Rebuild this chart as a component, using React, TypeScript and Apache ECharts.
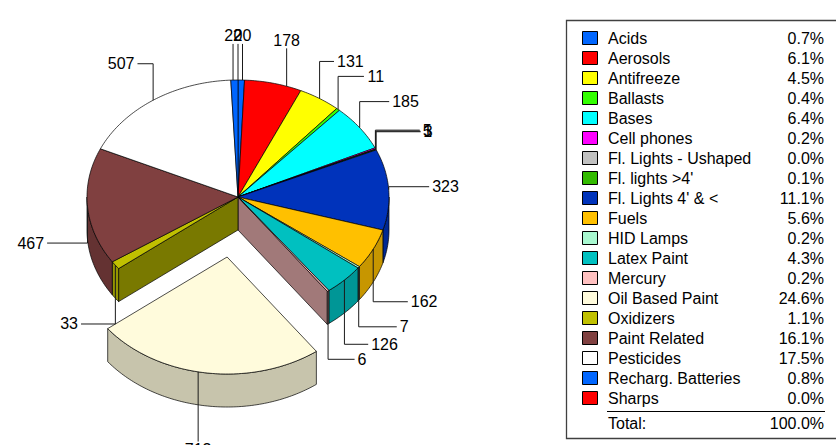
import React, { useEffect, useRef } from 'react';
import * as echarts from 'echarts';

// ---------- data ----------
const categories = [
  'Acids', 'Aerosols', 'Antifreeze', 'Ballasts', 'Bases', 'Cell phones',
  'Fl. Lights - Ushaped', "Fl. lights >4'", "Fl. Lights 4' & <", 'Fuels',
  'HID Lamps', 'Latex Paint', 'Mercury', 'Oil Based Paint', 'Oxidizers',
  'Paint Related', 'Pesticides', 'Recharg. Batteries', 'Sharps',
];
const values = [20, 178, 131, 11, 185, 5, 1, 3, 323, 162, 7, 126, 6, 713, 33, 467, 507, 22, 0];
const palette = [
  '#0066ff', '#ff0000', '#ffff00', '#33ff00', '#00ffff', '#ff00ff',
  '#c0c0c0', '#33bb00', '#0033bb', '#ffc000', '#a8f8d0', '#00c0c0',
  '#ffc0c0', '#fffbdc', '#c0c000', '#804040', '#ffffff', '#0066ff', '#ff0000',
];
const explodedIndex = 13;
const totalLabel = 'Total:';

// ---------- geometry / style ----------
const CX = 238, CY = 197, RX = 151, RY = 117, H = 33;
const EXPLODE = 0.518;
const LABEL_F = 1.377;
const D = Math.PI / 180;
const FONT = '16px "Liberation Sans", Arial, Helvetica, sans-serif';

const total = values.reduce((a, b) => a + b, 0);
const starts: number[] = [];
{
  let acc = 0;
  values.forEach((v) => { starts.push(acc); acc += v; });
}

function shade(hex: string, f: number) {
  const n = parseInt(hex.slice(1), 16);
  const r = Math.round(((n >> 16) & 255) * f);
  const g = Math.round(((n >> 8) & 255) * f);
  const b = Math.round((n & 255) * f);
  return `rgb(${r},${g},${b})`;
}

function arc(ox: number, oy: number, a: number, b: number, dy: number) {
  const pts: number[][] = [];
  const n = Math.max(1, Math.ceil(Math.abs(b - a)));
  for (let k = 0; k <= n; k++) {
    const t = a + ((b - a) * k) / n;
    pts.push([ox + RX * Math.sin(t * D), oy - RY * Math.cos(t * D) + dy]);
  }
  return pts;
}

function textStyle(text: string, x: number, y: number, align: string) {
  return {
    text, x, y, font: FONT, fill: '#000',
    align, textAlign: align, verticalAlign: 'middle', textVerticalAlign: 'middle',
  };
}

function renderItem(params: any, api: any) {
  const i = params.dataIndex;
  const v = api.value(0);
  const t0 = (starts[i] / total) * 360;
  const t1 = ((starts[i] + v) / total) * 360;
  const tm = (t0 + t1) / 2;
  const isEx = i === explodedIndex;
  const ex = isEx ? EXPLODE : 0;
  const ox = CX + ex * RX * Math.sin(tm * D);
  const oy = CY - ex * RY * Math.cos(tm * D);
  const color = palette[i];
  const zb = isEx ? 10 : 0;
  const edge = { stroke: '#000', lineWidth: 0.7, lineJoin: 'round' };
  const children: any[] = [];

  if (v > 0) {
    // radial walls that face the gap left by the exploded slice
    const wallAt = (t: number) => {
      const p = [ox + RX * Math.sin(t * D), oy - RY * Math.cos(t * D)];
      children.push({
        type: 'polygon', z2: 1,
        shape: { points: [[ox, oy], p, [p[0], p[1] + H], [ox, oy + H]] },
        style: { fill: shade(color, 0.63), ...edge },
      });
    };
    if (i === explodedIndex - 1) wallAt(t1);
    if (i === explodedIndex + 1) wallAt(t0);

    // outer (front) wall
    const a = Math.max(t0, 90), b = Math.min(t1, 270);
    if (b > a) {
      const top = arc(ox, oy, a, b, 0);
      const bot = arc(ox, oy, a, b, H).reverse();
      children.push({
        type: 'polygon', z2: zb + 2,
        shape: { points: top.concat(bot) },
        style: { fill: shade(color, 0.78), ...edge },
      });
    }
    // top face
    children.push({
      type: 'polygon', z2: zb + 3,
      shape: { points: [[ox, oy]].concat(arc(ox, oy, t0, t1, 0)) },
      style: { fill: color, ...edge },
    });
  }

  // label with leader line
  const s = Math.sin(tm * D), c = Math.cos(tm * D);
  const front = c < 0;
  const ax = ox + RX * s, ay = oy - RY * c;
  const lx = ox + LABEL_F * RX * s;
  const ly = oy - LABEL_F * RY * c + (front ? H : 0);
  const txt = String(v);
  const w = txt.length * 8.9;
  let pts: number[][];
  if (Math.abs(ax - lx) <= w / 2) {
    const q = Math.max(-1, Math.min(1, (lx - ox) / RX));
    const yr = oy + (front ? 1 : -1) * RY * Math.sqrt(1 - q * q);
    pts = [[lx, front ? ly - 8 : ly + 8], [lx, yr]];
  } else {
    const endX = lx > ax ? lx - w / 2 - 3 : lx + w / 2 + 3;
    pts = [[ax, ay], [ax, ly], [endX, ly]];
  }
  children.push({
    type: 'polyline', z2: 30, shape: { points: pts },
    style: { stroke: '#1a1a1a', lineWidth: 1, fill: null },
  });
  children.push({ type: 'text', z2: 31, style: textStyle(txt, lx, ly, 'center') });

  return { type: 'group', children };
}

function buildLegend() {
  const children: any[] = [];
  const rowY = (k: number) => 38 + k * 20;
  children.push({
    type: 'rect', shape: { x: 566.5, y: 20.5, width: 290, height: 418 },
    style: { fill: '#fff', stroke: '#404040', lineWidth: 1.3 }, z: 0,
  });
  categories.forEach((name, k) => {
    const y = rowY(k);
    children.push({
      type: 'rect', shape: { x: 582.5, y: y - 6.5, width: 15, height: 13 },
      style: { fill: palette[k], stroke: '#000', lineWidth: 1 }, z: 1,
    });
    children.push({ type: 'text', z: 1, style: textStyle(name, 608, y, 'left') });
    const pct = ((values[k] / total) * 100).toFixed(1) + '%';
    children.push({ type: 'text', z: 1, style: textStyle(pct, 824, y, 'right') });
  });
  children.push({
    type: 'line', z: 1, shape: { x1: 607, y1: 411.5, x2: 825, y2: 411.5 },
    style: { stroke: '#000', lineWidth: 1 },
  });
  const ty = 423;
  children.push({ type: 'text', z: 1, style: textStyle(totalLabel, 608, ty, 'left') });
  children.push({ type: 'text', z: 1, style: textStyle('100.0%', 824, ty, 'right') });
  return [{ type: 'group', silent: true, children }];
}

export default function App() {
  const ref = useRef<HTMLDivElement>(null);
  useEffect(() => {
    if (!ref.current) return;
    const chart = echarts.init(ref.current, null, { renderer: 'svg' });
    chart.setOption({
      animation: false,
      backgroundColor: '#ffffff',
      graphic: buildLegend(),
      series: [
        {
          type: 'custom',
          coordinateSystem: 'none',
          silent: true,
          renderItem,
          data: values.map((v, i) => ({ name: categories[i], value: [v] })),
        },
      ],
    });
    return () => chart.dispose();
  }, []);
  return (
    <div
      ref={ref}
      style={{ position: 'absolute', left: 0, top: 0, width: 836, height: 445, background: '#fff' }}
    />
  );
}
